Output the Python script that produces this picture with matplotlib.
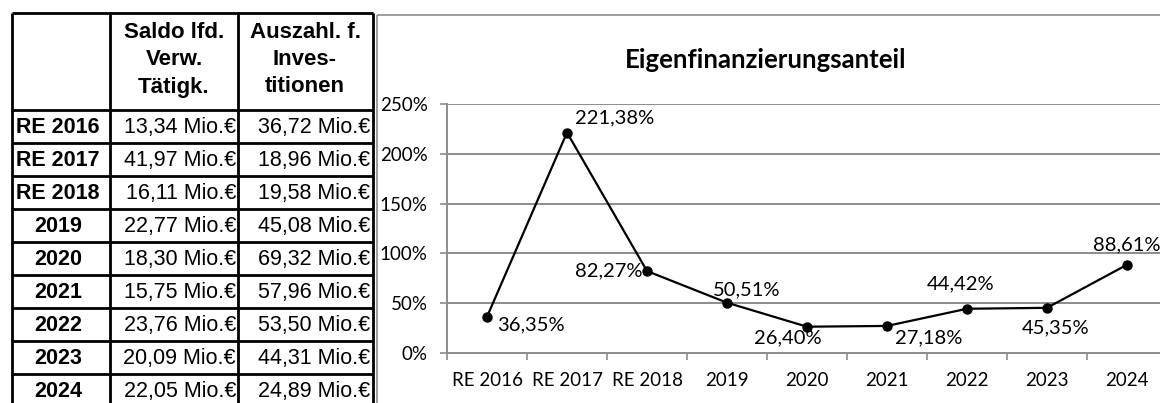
"""
Eigenfinanzierungsanteil: Tabelle links, Liniendiagramm rechts.
"""

from matplotlib import pyplot as plt
from matplotlib.patches import Rectangle

years = ["RE 2016", "RE 2017", "RE 2018", "2019", "2020", "2021", "2022", "2023", "2024"]
saldo = ["13,34", "41,97", "16,11", "22,77", "18,30", "15,75", "23,76", "20,09", "22,05"]
auszahl = ["36,72", "18,96", "19,58", "45,08", "69,32", "57,96", "53,50", "44,31", "24,89"]
anteil = [36.35, 221.38, 82.27, 50.51, 26.40, 27.18, 44.42, 45.35, 88.61]

header_saldo = ["Saldo lfd.", "Verw.", "Tätigk."]
header_ausz = ["Auszahl. f.", "Inves-", "titionen"]

# label offsets (pixels) for the data labels, set by hand like in Excel
label_offsets = [(10, -8, "left"), (8, 15, "left"), (-4, 0, "right"),
                 (20, 13, "center"), (-19, -11, "center"), (8, -12, "left"),
                 (-6, 25, "center"), (9, -20, "center"), (0, 20, "center")]

W, H = 1160, 403
fig = plt.figure(figsize=(W / 100, H / 100), dpi=100)

# background axes in pixel coordinates for table and chart frame
bg = fig.add_axes([0, 0, 1, 1])
bg.set_xlim(0, W)
bg.set_ylim(H, 0)
bg.axis("off")

# chart frame
bg.add_patch(Rectangle((377, 15), 800, 400, fill=False, edgecolor="#8c8c8c", lw=1.2))

# table grid
col_x = [12, 110, 238, 373]
row_y = [13, 110] + [110 + 33 * (i + 1) for i in range(len(years))]
for x in col_x:
    bg.plot([x, x], [row_y[0], H + 5], color="black", lw=2.0, solid_capstyle="butt")
for y in row_y:
    bg.plot([col_x[0], col_x[-1]], [y, y], color="black", lw=2.0, solid_capstyle="butt")

tfont = "Liberation Sans"
for j, line in enumerate(header_saldo):
    bg.text(174, 32 + 27.5 * j, line, ha="center", va="center", fontsize=16,
            fontweight="bold", family=tfont)
for j, line in enumerate(header_ausz):
    bg.text(305, 32 + 27.5 * j, line, ha="center", va="center", fontsize=16,
            fontweight="bold", family=tfont)

for i, yr in enumerate(years):
    yc = 110 + 33 * (i + 0.5) + 1
    bg.text(58, yc, yr, ha="center", va="center", fontsize=15.5, fontweight="bold", family=tfont)
    bg.text(236, yc, saldo[i] + " Mio.€", ha="right", va="center", fontsize=15.5, family=tfont)
    bg.text(370, yc, auszahl[i] + " Mio.€", ha="right", va="center", fontsize=15.5, family=tfont)

# title
bg.text(766, 60, "Eigenfinanzierungsanteil", ha="center", va="center", fontsize=18.5,
        fontweight="bold", family="Lato")

# line chart
ax = fig.add_axes([447 / W, (H - 353) / H, 720 / W, 249 / H])
xs = [i + 0.5 for i in range(len(years))]
ax.plot(xs, anteil, color="black", lw=1.6, marker="o", markersize=6.5, zorder=3,
        clip_on=False)

for x, v, (dx, dy, ha) in zip(xs, anteil, label_offsets):
    ax.annotate(f"{v:.2f}".replace(".", ",") + "%", (x, v), xytext=(dx, dy),
                textcoords="offset pixels", ha=ha, va="center", fontsize=14.5,
                family="Lato")

ax.set_xlim(0, len(years))
ax.set_ylim(0, 250)
ax.set_yticks([0, 50, 100, 150, 200, 250])
ax.set_yticklabels([f"{t}%" for t in [0, 50, 100, 150, 200, 250]], family="Lato", fontsize=13.5)
ax.set_xticks(range(len(years) + 1))
ax.set_xticklabels([])
ax.set_xticks(xs, minor=True)
ax.set_xticklabels(years, minor=True, family="Lato", fontsize=13.5)
ax.tick_params(axis="x", which="major", length=5, width=1.2, color="#8c8c8c")
ax.tick_params(axis="x", which="minor", length=0, pad=14)
ax.tick_params(axis="y", length=5, width=1.2, color="#8c8c8c", pad=9)
ax.grid(axis="y", color="#8c8c8c", lw=1.4)
ax.set_axisbelow(True)
for side in ["top", "right"]:
    ax.spines[side].set_visible(False)
for side in ["left", "bottom"]:
    ax.spines[side].set_color("#8c8c8c")
    ax.spines[side].set_linewidth(1.4)

fig.savefig("out.png", dpi=100)
